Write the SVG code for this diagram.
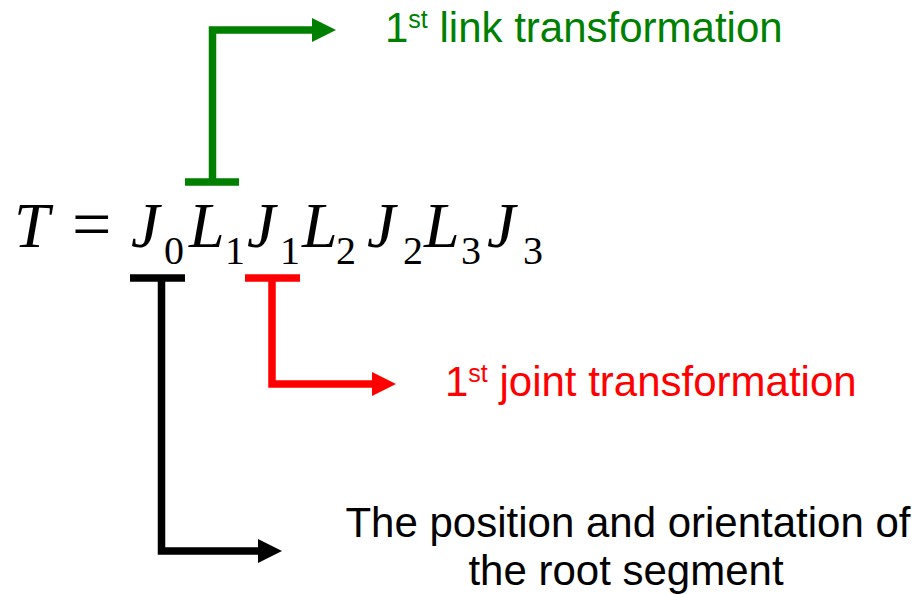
<svg xmlns="http://www.w3.org/2000/svg" width="917" height="594" viewBox="0 0 917 594">
<style>
.eq{font-family:"Liberation Serif",serif;font-style:italic;font-size:64px;fill:#000}
.sub{font-family:"Liberation Serif",serif;font-size:40px;fill:#000}
.op{font-family:"Liberation Serif",serif;font-size:70px;fill:#000}
.lbl{font-family:"Liberation Sans",Arial,sans-serif;font-size:42px}
.sup{font-size:25px}
</style>
<rect width="917" height="594" fill="#fff"/>
<g id="equation">
<text class="eq" x="14" y="247">T</text>
<text class="op" x="72" y="248">=</text>
<text class="eq" x="131" y="247">J</text>
<text class="sub" x="164" y="264">0</text>
<text class="eq" x="189" y="247">L</text>
<text class="sub" x="225" y="264">1</text>
<text class="eq" x="247" y="247">J</text>
<text class="sub" x="280" y="264">1</text>
<text class="eq" x="302" y="247">L</text>
<text class="sub" x="336" y="264">2</text>
<text class="eq" x="367" y="247">J</text>
<text class="sub" x="403" y="264">2</text>
<text class="eq" x="424" y="247">L</text>
<text class="sub" x="461" y="264">3</text>
<text class="eq" x="487" y="247">J</text>
<text class="sub" x="523" y="264">3</text>
</g>
<g id="connectors" fill="none" stroke-width="7.5">
<path d="M185 182H239M212.5 182V30H314" stroke="#008000"/>
<polygon points="312,18 336,30 312,42" fill="#008000" stroke="none"/>
<path d="M245 278H300M272 278V384H374" stroke="#ff0000"/>
<polygon points="372,372 396,384 372,396" fill="#ff0000" stroke="none"/>
<path d="M130 278H185M161.5 278V551H260" stroke="#000"/>
<polygon points="258,539 282,551 258,563" fill="#000" stroke="none"/>
</g>
<g id="link-label">
<text class="lbl" x="385" y="42" fill="#008000">1<tspan class="sup" dy="-14">st</tspan><tspan dy="14"> link transformation</tspan></text>
</g>
<g id="joint-label">
<text class="lbl" x="445" y="396" fill="#ff0000">1<tspan class="sup" dy="-14">st</tspan><tspan dy="14"> joint transformation</tspan></text>
</g>
<g id="root-label">
<text class="lbl" x="628" y="537" text-anchor="middle" fill="#000">The position and orientation of</text>
<text class="lbl" x="626" y="585" text-anchor="middle" fill="#000">the root segment</text>
</g>
</svg>
